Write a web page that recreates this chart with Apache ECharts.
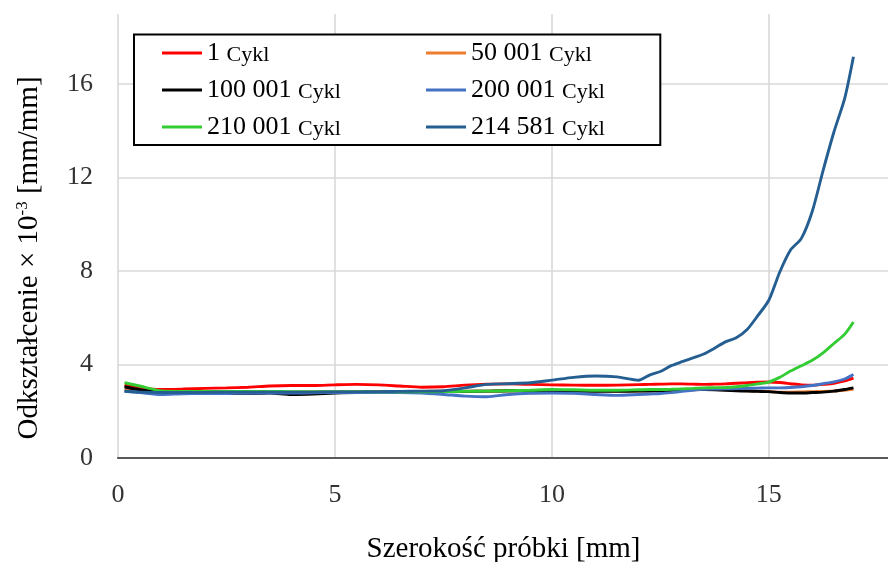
<!DOCTYPE html>
<html>
<head>
<meta charset="utf-8">
<style>
  html, body { margin: 0; padding: 0; background: #ffffff; }
  #chart { width: 888px; height: 562px; }
</style>
<script src="https://cdn.jsdelivr.net/npm/echarts@6/dist/echarts.min.js"></script>
</head>
<body>
<div id="chart"></div>
<script>
// Sample width positions [mm]
const widthMm = [0.15, 0.5, 1, 1.5, 2, 2.5, 3, 3.5, 4, 4.5, 5, 5.5, 6, 6.5, 7, 7.5, 8, 8.5, 9, 9.5,
  10, 10.5, 11, 11.5, 12, 12.25, 12.5, 12.75, 13, 13.25, 13.5, 13.75, 14, 14.25, 14.5, 14.75,
  15, 15.25, 15.5, 15.75, 16, 16.25, 16.5, 16.75, 16.95];

// Strain × 10^-3 [mm/mm] for each cycle count
const cycle1 = [3.12, 3.0, 2.93, 2.95, 2.98, 3.0, 3.03, 3.08, 3.1, 3.1, 3.13, 3.15, 3.13, 3.08, 3.03, 3.05, 3.12, 3.16, 3.17, 3.15,
  3.13, 3.12, 3.11, 3.12, 3.14, 3.15, 3.16, 3.17, 3.17, 3.16, 3.15, 3.16, 3.17, 3.2, 3.22, 3.24,
  3.25, 3.23, 3.18, 3.13, 3.11, 3.15, 3.2, 3.3, 3.42];
const cycle50001 = [2.95, 2.85, 2.8, 2.8, 2.8, 2.8, 2.8, 2.82, 2.82, 2.83, 2.85, 2.85, 2.85, 2.85, 2.85, 2.86, 2.86, 2.86, 2.87, 2.88,
  2.88, 2.88, 2.88, 2.87, 2.86, 2.86, 2.87, 2.88, 2.9, 2.92, 2.93, 2.93, 2.92, 2.9, 2.88, 2.86,
  2.84, 2.82, 2.82, 2.83, 2.84, 2.85, 2.87, 2.9, 2.94];
const cycle100001 = [3.05, 2.92, 2.82, 2.8, 2.78, 2.76, 2.76, 2.78, 2.72, 2.74, 2.78, 2.8, 2.8, 2.8, 2.82, 2.84, 2.85, 2.86, 2.88, 2.88,
  2.87, 2.86, 2.85, 2.85, 2.86, 2.87, 2.88, 2.9, 2.92, 2.93, 2.93, 2.92, 2.9, 2.88, 2.86, 2.85,
  2.84, 2.8, 2.78, 2.78, 2.8, 2.82, 2.86, 2.93, 3.0];
const cycle200001 = [2.85, 2.8, 2.72, 2.75, 2.76, 2.76, 2.77, 2.78, 2.78, 2.79, 2.8, 2.8, 2.8, 2.8, 2.78, 2.72, 2.65, 2.62, 2.72, 2.77,
  2.78, 2.77, 2.72, 2.68, 2.72, 2.74, 2.76, 2.8, 2.85, 2.9, 2.94, 2.95, 2.96, 2.97, 2.98, 2.99,
  3.0, 3.0, 3.02, 3.05, 3.1, 3.18, 3.26, 3.38, 3.57];
const cycle210001 = [3.22, 3.08, 2.87, 2.85, 2.85, 2.85, 2.85, 2.85, 2.84, 2.84, 2.84, 2.84, 2.83, 2.83, 2.83, 2.84, 2.85, 2.86, 2.88, 2.9,
  2.93, 2.92, 2.9, 2.9, 2.92, 2.93, 2.93, 2.94, 2.96, 2.98, 3.0, 3.01, 3.02, 3.05, 3.1, 3.17,
  3.25, 3.45, 3.72, 3.95, 4.18, 4.5, 4.9, 5.3, 5.82];
const cycle214581 = [2.87, 2.82, 2.8, 2.8, 2.81, 2.82, 2.82, 2.82, 2.82, 2.82, 2.83, 2.83, 2.84, 2.85, 2.86, 2.88, 3.0, 3.15, 3.18, 3.22,
  3.33, 3.45, 3.51, 3.47, 3.33, 3.55, 3.7, 3.95, 4.12, 4.28, 4.45, 4.7, 4.97, 5.15, 5.5, 6.1,
  6.75, 7.95, 8.9, 9.4, 10.55, 12.3, 13.95, 15.4, 17.17];

const seriesNames = ['1', '50 001', '100 001', '200 001', '210 001', '214 581'];
const seriesColors = ['#FF0000', '#ED7D31', '#000000', '#4472C4', '#33CC33', '#255E91'];
const seriesValues = [cycle1, cycle50001, cycle100001, cycle200001, cycle210001, cycle214581];

const yTicks = [0, 4, 8, 12, 16];
const xTicks = [0, 5, 10, 15];

const serif = "'Liberation Serif', 'Times New Roman', serif";

const chart = echarts.init(document.getElementById('chart'), null, { renderer: 'canvas' });

const series = seriesNames.map((name, i) => ({
  name: name,
  type: 'line',
  symbol: 'none',
  smooth: 0.25,
  color: seriesColors[i],
  lineStyle: { width: 2.9, color: seriesColors[i] },
  data: widthMm.map((x, k) => [x, seriesValues[i][k]]),
  z: i === 5 ? 3 : 2
}));

const legendText = {
  color: '#000',
  fontFamily: serif,
  rich: {
    n: { fontSize: 26, fontFamily: serif, color: '#000', lineHeight: 26, verticalAlign: 'bottom' },
    c: { fontSize: 22, fontFamily: serif, color: '#000', lineHeight: 22, verticalAlign: 'bottom' }
  }
};

const legendCommon = {
  orient: 'vertical',
  icon: 'rect',
  itemWidth: 40,
  itemHeight: 2.8,
  itemGap: 11,
  padding: 0,
  top: 40,
  z: 5,
  textStyle: legendText,
  formatter: (n) => '{n|' + n + ' }{c|Cykl}'
};

chart.setOption({
  animation: false,
  backgroundColor: '#ffffff',
  grid: { left: 118, top: 14, right: -11, bottom: 104, containLabel: false, outerBoundsMode: 'none' },
  xAxis: {
    type: 'value',
    min: 0,
    max: 18,
    interval: 5,
    name: 'Szerokość próbki [mm]',
    nameLocation: 'middle',
    nameGap: 77,
    nameTextStyle: { fontFamily: serif, fontSize: 29, color: '#000', padding: [0, 10, 0, 0] },
    axisLine: { show: true, onZero: false, lineStyle: { color: '#595959', width: 2.2 } },
    axisTick: { show: false },
    axisLabel: {
      fontFamily: serif, fontSize: 26, color: '#333', margin: 24,
      showMaxLabel: false,
      formatter: (v) => (xTicks.indexOf(v) >= 0 ? String(v) : '')
    },
    splitLine: { show: true, showMaxLine: false, lineStyle: { color: '#D9D9D9', width: 1.6 } }
  },
  yAxis: {
    type: 'value',
    min: 0,
    max: 19,
    interval: 4,
    axisLine: { show: false },
    axisTick: { show: false },
    axisLabel: {
      fontFamily: serif, fontSize: 26, color: '#333', margin: 25,
      showMaxLabel: false,
      formatter: (v) => (yTicks.indexOf(v) >= 0 ? String(v) : '')
    },
    splitLine: { show: true, showMaxLine: false, lineStyle: { color: '#D9D9D9', width: 1.6 } }
  },
  legend: [
    Object.assign({}, legendCommon, { left: 162, data: ['1', '100 001', '210 001'] }),
    Object.assign({}, legendCommon, { left: 426, data: ['50 001', '200 001', '214 581'] })
  ],
  graphic: [
    {
      type: 'rect',
      z: 3,
      shape: { x: 134, y: 34.4, width: 526.3, height: 110.6 },
      style: { fill: '#ffffff', stroke: '#000000', lineWidth: 2 }
    },
    {
      type: 'text',
      z: 3,
      x: 29,
      y: 258,
      rotation: Math.PI / 2,
      style: {
        text: '{m|Odkształcenie × 10}{s|-3}{m| [mm/mm]}',
        align: 'center',
        verticalAlign: 'middle',
        fill: '#000',
        rich: {
          m: { fontFamily: serif, fontSize: 29, fill: '#000', lineHeight: 30 },
          s: { fontFamily: serif, fontSize: 17, fill: '#000', verticalAlign: 'top', lineHeight: 30 }
        }
      }
    }
  ],
  series: series
});
</script>
</body>
</html>
